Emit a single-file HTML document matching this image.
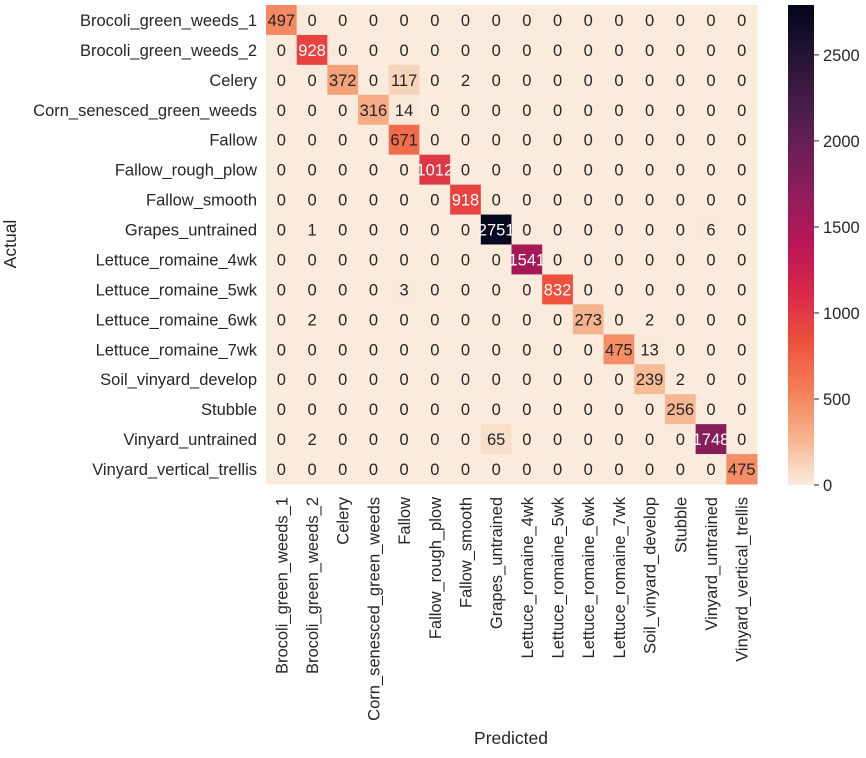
<!DOCTYPE html>
<html><head><meta charset="utf-8"><style>
body{margin:0;background:#fff;}
svg text{font-family:"Liberation Sans",Arial,sans-serif;fill:#262626;}
</style></head><body>
<svg id="c" width="866" height="753"></svg>
<script>
const labels=["Brocoli_green_weeds_1","Brocoli_green_weeds_2","Celery","Corn_senesced_green_weeds","Fallow","Fallow_rough_plow","Fallow_smooth","Grapes_untrained","Lettuce_romaine_4wk","Lettuce_romaine_5wk","Lettuce_romaine_6wk","Lettuce_romaine_7wk","Soil_vinyard_develop","Stubble","Vinyard_untrained","Vinyard_vertical_trellis"];
const matrix=[
[497,0,0,0,0,0,0,0,0,0,0,0,0,0,0,0],
[0,928,0,0,0,0,0,0,0,0,0,0,0,0,0,0],
[0,0,372,0,117,0,2,0,0,0,0,0,0,0,0,0],
[0,0,0,316,14,0,0,0,0,0,0,0,0,0,0,0],
[0,0,0,0,671,0,0,0,0,0,0,0,0,0,0,0],
[0,0,0,0,0,1012,0,0,0,0,0,0,0,0,0,0],
[0,0,0,0,0,0,918,0,0,0,0,0,0,0,0,0],
[0,1,0,0,0,0,0,2751,0,0,0,0,0,0,6,0],
[0,0,0,0,0,0,0,0,1541,0,0,0,0,0,0,0],
[0,0,0,0,3,0,0,0,0,832,0,0,0,0,0,0],
[0,2,0,0,0,0,0,0,0,0,273,0,2,0,0,0],
[0,0,0,0,0,0,0,0,0,0,0,475,13,0,0,0],
[0,0,0,0,0,0,0,0,0,0,0,0,239,2,0,0],
[0,0,0,0,0,0,0,0,0,0,0,0,0,256,0,0],
[0,2,0,0,0,0,0,65,0,0,0,0,0,0,1748,0],
[0,0,0,0,0,0,0,0,0,0,0,0,0,0,0,475]];
const cbTicks=[0,500,1000,1500,2000,2500];
const vmax=2790;

const svg=document.getElementById('c');
const NS='http://www.w3.org/2000/svg';
const X0=266,Y0=5,W=491,H=479,n=labels.length,cw=W/n,ch=H/n;
const stops=[[0,[3,5,26]],[0.1,[34,19,49]],[0.2,[69,28,71]],[0.3,[105,31,85]],[0.4,[146,28,91]],[0.5,[185,22,87]],[0.6,[217,40,71]],[0.7,[237,80,62]],[0.8,[244,125,87]],[0.85,[245,152,112]],[0.9,[246,178,141]],[0.95,[248,208,180]],[1,[250,235,221]]];
function cmap(v){let t=1-Math.max(0,Math.min(1,v/vmax));for(let i=1;i<stops.length;i++){if(t<=stops[i][0]){const a=stops[i-1],b=stops[i],f=(t-a[0])/(b[0]-a[0]);return a[1].map((c,k)=>Math.round(c+(b[1][k]-c)*f));}}return stops[stops.length-1][1];}
function el(t,a,txt){const e=document.createElementNS(NS,t);for(const k in a)e.setAttribute(k,a[k]);if(txt!=null)e.textContent=txt;svg.appendChild(e);return e;}
const xs=j=>X0+j*cw, ys=i=>Y0+i*ch;
for(let i=0;i<n;i++)for(let j=0;j<n;j++){
 const v=matrix[i][j],c=cmap(v);
 const r=el('rect',{x:xs(j),y:ys(i),width:cw+0.5,height:ch+0.5,fill:`rgb(${c})`});
 
 
 const lum=(0.2126*c[0]+0.7152*c[1]+0.0722*c[2])/255;
 const t=el('text',{x:xs(j)+cw/2,y:ys(i)+ch/2+6,'text-anchor':'middle','font-size':16.5},v);
 t.style.fill=lum>0.45?'#262626':'#ffffff';
 
 
}
labels.forEach((l,i)=>{
 const t=el('text',{x:X0-9,y:ys(i)+ch/2+6,'text-anchor':'end','font-size':16.5},l);
 
 
 const cx=xs(i)+cw/2+6,cy=Y0+H+13;
 const u=el('text',{x:cx,y:cy,'text-anchor':'end','font-size':16.5,transform:`rotate(-90 ${cx} ${cy})`},l);
 
 
});
let a=el('text',{x:511,y:744,'text-anchor':'middle','font-size':17.5},'Predicted');

a=el('text',{x:16,y:244,'text-anchor':'middle','font-size':17.5,transform:'rotate(-90 16 244)'},'Actual');

const CX=788,CW=26,CB=485,CT=5,cy=v=>CB-(v/vmax)*(CB-CT);
const defs=el('defs',{});
const g=document.createElementNS(NS,'linearGradient');g.setAttribute('id','gr');g.setAttribute('x1','0');g.setAttribute('y1','1');g.setAttribute('x2','0');g.setAttribute('y2','0');defs.appendChild(g);
for(let k=0;k<=40;k++){const s=document.createElementNS(NS,'stop');s.setAttribute('offset',k/40);s.setAttribute('stop-color',`rgb(${cmap(vmax*k/40)})`);g.appendChild(s);}
a=el('rect',{x:CX,y:CT,width:CW,height:CB-CT,fill:'url(#gr)'});

cbTicks.forEach(v=>{
 el('line',{x1:CX+CW,x2:CX+CW+5,y1:cy(v),y2:cy(v),stroke:'#262626','stroke-width':1});
 const t=el('text',{x:CX+CW+9,y:cy(v)+6,'font-size':16.5},v);
 
 
});
</script>
</body></html>
